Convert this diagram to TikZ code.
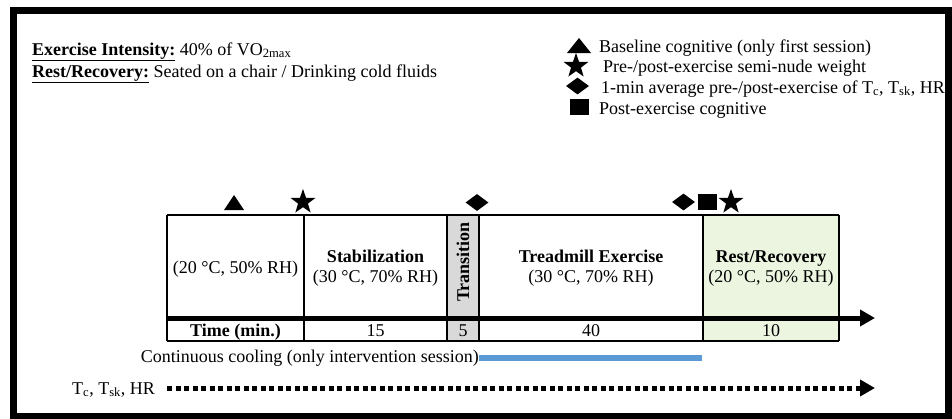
\documentclass[tikz,border=0pt]{standalone}
\usepackage{fontspec}
\setmainfont{Liberation Serif}
\usetikzlibrary{arrows.meta,shapes.geometric}
\definecolor{transgray}{RGB}{217,217,217}
\definecolor{restgreen}{RGB}{235,245,224}
\definecolor{coolblue}{RGB}{91,155,213}
\tikzset{
  txt/.style={inner sep=0pt, font=\fontsize{18}{20}\selectfont},
  cell/.style={txt, align=center},
  mktri/.style={fill=black},
  mkstar/.style={star, star points=5, star point ratio=2.5, minimum size=26pt, fill=black, inner sep=0pt},
  mkdia/.style={diamond, minimum width=23pt, minimum height=17pt, fill=black, inner sep=0pt},
  mksq/.style={rectangle, minimum width=19pt, minimum height=16pt, fill=black, inner sep=0pt},
  thinline/.style={line width=1.5pt},
  colline/.style={line width=2.6pt},
}
\begin{document}
\begin{tikzpicture}[x=1pt,y=-1pt]
\useasboundingbox (0,0) rectangle (952,418);
% outer frame
\draw[line width=7pt] (13.5,10) rectangle (948.5,416);

% top-left notes
\node[txt, anchor=base west] (ei) at (32,55) {\textbf{\underline{Exercise Intensity:}} 40\% of VO\textsubscript{2max}};
\node[txt, anchor=base west] (rr) at (32,77) {\textbf{\underline{Rest/Recovery:}} Seated on a chair / Drinking cold fluids};

% legend
\fill[mktri, shift={(579,45.5)}] (-12,7.5) -- (12,7.5) -- (0,-7.5) -- cycle;
\node[mkstar] (lstar) at (576,66) {};
\node[mkdia] (ldia) at (577.5,86) {};
\node[mksq] (lsq) at (579,107) {};
\node[txt, anchor=base west] (l1) at (599,52) {Baseline cognitive (only first session)};
\node[txt, anchor=base west] (l2) at (603,72.5) {Pre-/post-exercise semi-nude weight};
\node[txt, anchor=base west] (l3) at (601,93) {1-min average pre-/post-exercise of T\textsubscript{c}, T\textsubscript{sk}, HR};
\node[txt, anchor=base west] (l4) at (599,114) {Post-exercise cognitive};

% timeline markers
\fill[mktri, shift={(234,202.5)}] (-10,7.5) -- (10,7.5) -- (0,-7.5) -- cycle;
\node[mkstar] (tstar1) at (303,202) {};
\node[mkdia] (tdia1) at (477,202.5) {};
\node[mkdia] (tdia2) at (683.5,202) {};
\node[mksq] (tsq) at (707,202) {};
\node[mkstar] (tstar2) at (731,202) {};

% table fills
\fill[transgray] (447,215) rectangle (479,341);
\fill[restgreen] (703,215) rectangle (839,341);
% table lines
\draw[thinline] (167,215) -- (839,215);
\draw[thinline] (167,215) -- (167,341);
\draw[line width=2pt] (167,341) -- (839,341);
\foreach \xx in {304,447,479,703,839} \draw[colline] (\xx,215) -- (\xx,341);
% time axis
\coordinate (axs) at (167,318);
\coordinate (axe) at (875,318);
\draw[line width=5pt, -{Triangle[length=15pt,width=16pt]}] (axs) -- (axe);

% cell texts
\node[cell] (c1) at (235.5,269) {(20 °C, 50\% RH)};
\node[cell] (c2) at (375.5,268) {\textbf{Stabilization}\\(30 °C, 70\% RH)};
\node[cell, rotate=90, font=\fontsize{18}{20}\selectfont\bfseries] (c3) at (463,262) {Transition};
\node[cell] (c4) at (591,268) {\textbf{Treadmill Exercise}\\(30 °C, 70\% RH)};
\node[cell] (c5) at (771,268) {\textbf{Rest/Recovery}\\(20 °C, 50\% RH)};

% time row
\node[txt, anchor=base] (t1) at (235.5,336) {\textbf{Time (min.)}};
\node[txt, anchor=base] (t2) at (375.5,336) {15};
\node[txt, anchor=base] (t3) at (463,336) {5};
\node[txt, anchor=base] (t4) at (591,336) {40};
\node[txt, anchor=base] (t5) at (771,336) {10};

% cooling
\node[txt, anchor=base east] (cool) at (479,362) {Continuous cooling (only intervention session)};
\coordinate (coolend) at (702,358);
\draw[coolblue, line width=6pt] (cool.east |- coolend) -- (coolend);

% Tc Tsk HR
\node[txt, anchor=base west] (tc) at (72,394) {T\textsubscript{c}, T\textsubscript{sk}, HR};
\coordinate (ds) at (167,388);
\coordinate (de) at (875,388);
\draw[line width=5pt, dash pattern=on 5pt off 3.5pt, -{Triangle[length=15pt,width=16pt]}] (ds) -- (de);
\end{tikzpicture}
\end{document}
